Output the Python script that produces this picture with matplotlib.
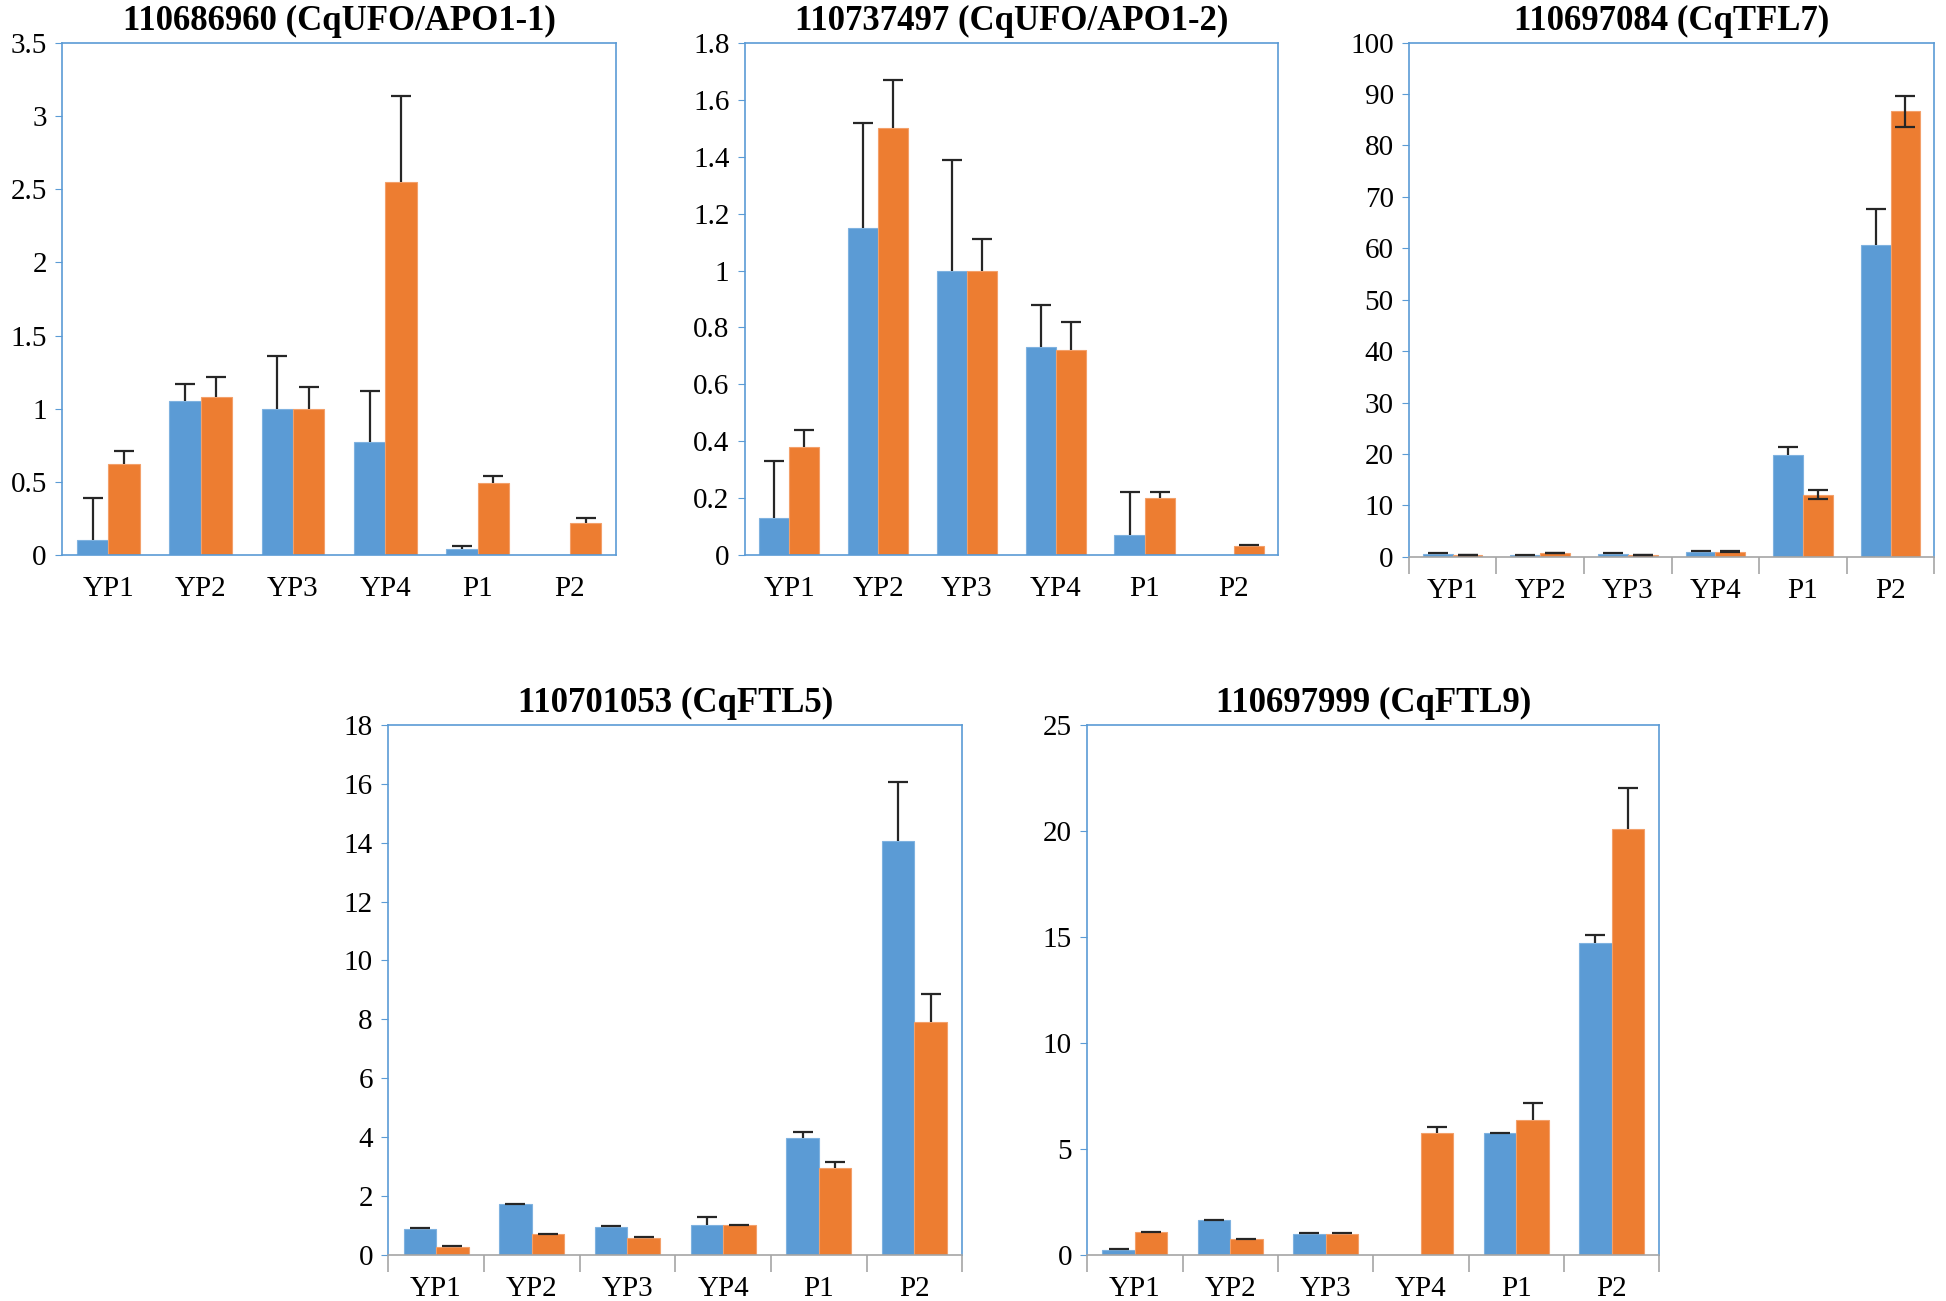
import matplotlib
matplotlib.use("Agg")
import matplotlib.pyplot as plt
from matplotlib.ticker import FuncFormatter, MultipleLocator

plt.rcParams['font.family'] = ['Liberation Serif', 'DejaVu Serif']

stages = ["YP1", "YP2", "YP3", "YP4", "P1", "P2"]

# CqUFO/APO1-1
ufo1_blue = [0.10, 1.05, 1.00, 0.77, 0.04, 0.0]
ufo1_blue_err = [0.29, 0.12, 0.36, 0.35, 0.02, 0.0]
ufo1_orange = [0.62, 1.08, 1.00, 2.55, 0.49, 0.22]
ufo1_orange_err = [0.09, 0.14, 0.15, 0.59, 0.05, 0.03]

# CqUFO/APO1-2
ufo2_blue = [0.13, 1.15, 1.00, 0.73, 0.07, 0.0]
ufo2_blue_err = [0.20, 0.37, 0.39, 0.15, 0.15, 0.0]
ufo2_orange = [0.38, 1.50, 1.00, 0.72, 0.20, 0.03]
ufo2_orange_err = [0.06, 0.17, 0.11, 0.10, 0.02, 0.004]

# CqTFL7
tfl7_blue = [0.6, 0.3, 0.6, 1.0, 19.8, 60.7]
tfl7_blue_err = [0.1, 0.1, 0.1, 0.1, 1.5, 7.0]
tfl7_orange = [0.3, 0.7, 0.3, 1.0, 12.1, 86.7]
tfl7_orange_err = [0.1, 0.1, 0.1, 0.1, 0.9, 3.0]
tfl7_orange_low = [0, 0, 0, 0, 0.9, 3.1]

# CqFTL5
ftl5_blue = [0.88, 1.72, 0.95, 1.02, 3.97, 14.05]
ftl5_blue_err = [0.02, 0.02, 0.02, 0.28, 0.22, 2.0]
ftl5_orange = [0.28, 0.70, 0.58, 1.00, 2.95, 7.90]
ftl5_orange_err = [0.02, 0.02, 0.02, 0.02, 0.22, 0.95]

# CqFTL9
ftl9_blue = [0.25, 1.65, 1.00, 0.0, 5.75, 14.7]
ftl9_blue_err = [0.02, 0.02, 0.02, 0.0, 0.02, 0.4]
ftl9_orange = [1.08, 0.75, 1.00, 5.75, 6.35, 20.1]
ftl9_orange_err = [0.02, 0.02, 0.02, 0.3, 0.8, 1.9]

blue = "#5B9BD5"
orange = "#ED7D31"
frame = "#5B9BD5"

fig = plt.figure(figsize=(19.46, 13.01), dpi=100)


def add_err(ax, xs, ys, up, low=None):
    ekw = dict(fmt="none", ecolor="#262626", elinewidth=1.6, capsize=7, capthick=1.6, zorder=3)
    idx = [i for i in range(len(ys)) if ys[i] > 0]
    if low is None:
        low = [0] * len(ys)
    eb = ax.errorbar([xs[i] for i in idx], [ys[i] for i in idx],
                     yerr=[[low[i] for i in idx], [up[i] for i in idx]], **ekw)
    if not any(low):
        eb[1][0].set_visible(False)  # hide lower caps when only upper error shown


def panel(rect, title, b, be, o, oe, ymax, step, ol=None, xticks=False):
    ax = fig.add_axes(rect)
    x = list(range(len(stages)))
    w = 0.34
    xb = [i - w / 2 for i in x]
    xo = [i + w / 2 for i in x]
    ax.bar(xb, b, w, color=blue, edgecolor="#7FB2E0", linewidth=0.8, zorder=2)
    ax.bar(xo, o, w, color=orange, edgecolor="#F3A06A", linewidth=0.8, zorder=2)
    add_err(ax, xb, b, be)
    add_err(ax, xo, o, oe, ol)
    ax.set_xlim(-0.5, len(stages) - 0.5)
    ax.set_ylim(0, ymax)
    ax.yaxis.set_major_locator(MultipleLocator(step))
    ax.yaxis.set_major_formatter(FuncFormatter(lambda v, p: "%g" % round(v, 2)))
    ax.set_xticks(x)
    ax.set_xticklabels(stages)
    for s in ax.spines.values():
        s.set_color(frame)
        s.set_linewidth(1.2)
    ax.tick_params(axis="y", direction="out", length=5, color=frame, labelsize=21, pad=6)
    if xticks:
        ax.spines["bottom"].set_color("#A6A6A6")
        ax.set_xticks([i + 0.5 for i in range(-1, len(stages))], minor=True)
        ax.tick_params(axis="x", which="minor", direction="out", length=12, color="#A6A6A6", width=1.2)
    ax.tick_params(axis="x", which="major", length=0, labelsize=21, pad=15)
    ax.set_title(title, fontsize=25, fontweight="bold", pad=9)
    return ax


panel([0.0319, 0.5734, 0.2847, 0.3936], "110686960 (CqUFO/APO1-1)",
      ufo1_blue, ufo1_blue_err, ufo1_orange, ufo1_orange_err, 3.5, 0.5)
panel([0.3827, 0.5734, 0.274, 0.3936], "110737497 (CqUFO/APO1-2)",
      ufo2_blue, ufo2_blue_err, ufo2_orange, ufo2_orange_err, 1.8, 0.2)
panel([0.724, 0.572, 0.270, 0.3953], "110697084 (CqTFL7)",
      tfl7_blue, tfl7_blue_err, tfl7_orange, tfl7_orange_err, 100, 10,
      ol=tfl7_orange_low, xticks=True)
panel([0.1995, 0.0354, 0.295, 0.4075], "110701053 (CqFTL5)",
      ftl5_blue, ftl5_blue_err, ftl5_orange, ftl5_orange_err, 18, 2, xticks=True)
panel([0.5587, 0.0354, 0.294, 0.4075], "110697999 (CqFTL9)",
      ftl9_blue, ftl9_blue_err, ftl9_orange, ftl9_orange_err, 25, 5, xticks=True)

fig.savefig("out.png", dpi=100)
